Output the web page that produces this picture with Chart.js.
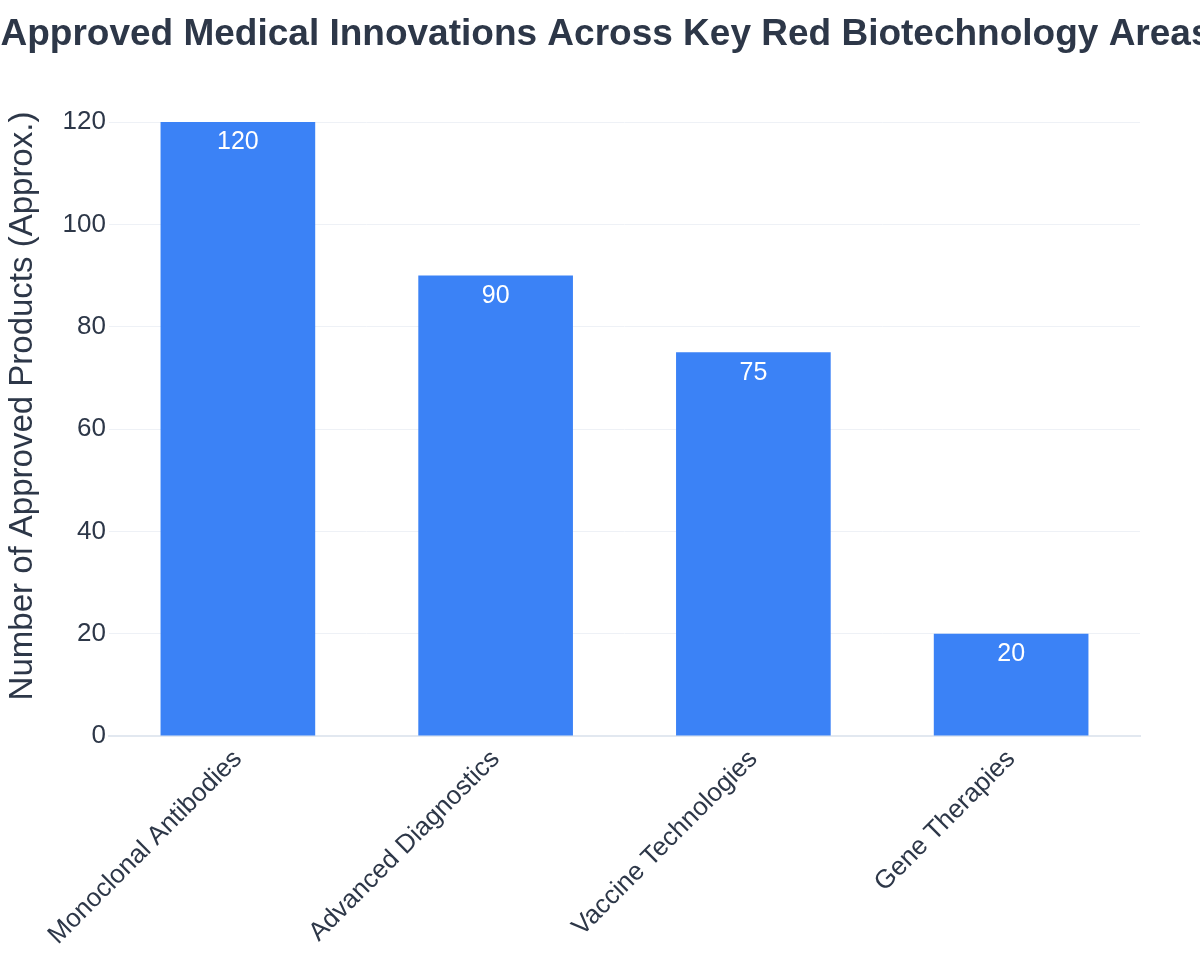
<!DOCTYPE html>
<html>
<head>
<meta charset="utf-8">
<script src="https://cdn.jsdelivr.net/npm/chart.js@4.4.1/dist/chart.umd.min.js"></script>
<style>
  html, body { margin: 0; padding: 0; background: #ffffff; }
  #wrap { width: 1200px; height: 975px; }
</style>
</head>
<body>
<div id="wrap"><canvas id="barChart" width="1200" height="975"></canvas></div>
<script>
  // chart data
  var areas = ["Monoclonal Antibodies", "Advanced Diagnostics", "Vaccine Technologies", "Gene Therapies"];
  var approvedCounts = [120, 90, 75, 20];
  var yTicks = [0, 20, 40, 60, 80, 100, 120];

  var chartTitle = "Approved Medical Innovations Across Key Red Biotechnology Areas";
  var yTitle = "Number of Approved Products (Approx.)";

  var textColor = "#2d3748";
  var fontFamily = "'Liberation Sans', Arial, Helvetica, sans-serif";

  // white value labels just inside the top of each bar
  var barValueLabels = {
    id: "barValueLabels",
    afterDatasetsDraw: function(chart) {
      var ctx = chart.ctx;
      var meta = chart.getDatasetMeta(0);
      ctx.save();
      ctx.fillStyle = "#ffffff";
      ctx.font = "25px " + fontFamily;
      ctx.textAlign = "center";
      ctx.textBaseline = "top";
      meta.data.forEach(function(bar, i) {
        ctx.fillText(String(approvedCounts[i]), bar.x, bar.y + 8);
      });
      ctx.restore();
    }
  };

  // page title (centred on the whole canvas, wider than it) and y axis title
  var titles = {
    id: "titles",
    afterDraw: function(chart) {
      var ctx = chart.ctx;
      ctx.save();
      ctx.fillStyle = textColor;
      ctx.font = "bold 37px " + fontFamily;
      ctx.textAlign = "center";
      ctx.textBaseline = "alphabetic";
      ctx.fillText(chartTitle, 606, 45);

      ctx.translate(32, 406);
      ctx.rotate(-Math.PI / 2);
      ctx.font = "33px " + fontFamily;
      ctx.textAlign = "center";
      ctx.fillText(yTitle, 0, 0);
      ctx.restore();
    }
  };

  var ctx = document.getElementById("barChart").getContext("2d");
  var chart = new Chart(ctx, {
    type: "bar",
    data: {
      labels: areas,
      datasets: [{
        label: "Approved Products",
        data: approvedCounts,
        backgroundColor: "#3b82f6",
        borderWidth: 0,
        categoryPercentage: 1.0,
        barPercentage: 0.6
      }]
    },
    options: {
      responsive: false,
      animation: false,
      layout: { padding: { left: 0, right: 60, top: 122, bottom: 0 } },
      plugins: {
        legend: { display: false },
        tooltip: { enabled: false },
        title: { display: false }
      },
      scales: {
        x: {
          grid: { display: false, drawTicks: false },
          border: { display: true, color: "#e2e8f0", width: 2 },
          ticks: {
            color: textColor,
            font: { family: fontFamily, size: 26 },
            maxRotation: 45,
            minRotation: 45,
            padding: 8
          },
          afterFit: function(scale) { scale.height = 239; }
        },
        y: {
          min: 0,
          max: 120,
          afterBuildTicks: function(scale) {
            scale.ticks = yTicks.map(function(v) { return { value: v }; });
          },
          grid: { color: "#eef1f6", lineWidth: 1, drawTicks: false },
          border: { display: false },
          ticks: {
            color: textColor,
            font: { family: fontFamily, size: 26 },
            padding: 3
          },
          afterFit: function(scale) { scale.width = 109; }
        }
      }
    },
    plugins: [barValueLabels, titles]
  });
</script>
</body>
</html>
